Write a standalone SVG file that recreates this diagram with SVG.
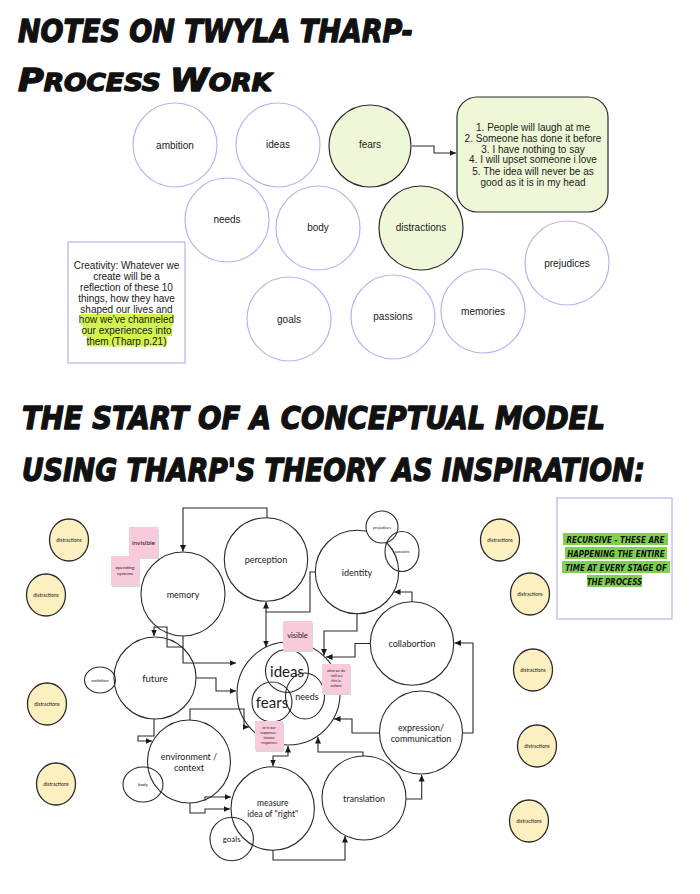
<svg xmlns="http://www.w3.org/2000/svg" width="700" height="894" viewBox="0 0 700 894">
<style>
.bg{fill:#fff}
.title{font-family:"DejaVu Sans Condensed","DejaVu Sans",sans-serif;font-weight:bold;font-style:oblique;fill:#111;stroke:#111;stroke-width:1.3;stroke-linejoin:round}
.lav{fill:#fff;stroke:#b8b2ef;stroke-width:1.2}
.grn{fill:#eef8d8;stroke:#2a2a2a;stroke-width:1.2}
.t1{font-family:"Liberation Sans",Arial,sans-serif;font-size:10px;fill:#1a1a1a;text-anchor:middle}
.hl{fill:#d2f250}
.c{fill:#fff;stroke:#2a2a2a;stroke-width:1.1}
.yel{fill:#fcefc0;stroke:#2a2a2a;stroke-width:1.3}
.t2{font-family:Lato,"Open Sans",sans-serif;fill:#1a1a1a;text-anchor:middle}
.pink{fill:#f9cadb}
.shadow{fill:#d8d8d8}
.rec{font-family:"DejaVu Sans Condensed","DejaVu Sans",sans-serif;font-weight:bold;font-style:oblique;font-size:8px;fill:#111;text-anchor:middle}
.rh{fill:#80d04c}
.conn path{fill:none;stroke:#2a2a2a;stroke-width:1.1}
</style>
<defs>
<marker id="ah" markerUnits="userSpaceOnUse" markerWidth="7" markerHeight="7" refX="6.5" refY="3.5" orient="auto-start-reverse">
<path d="M0,0.5 L6.5,3.5 L0,6.5 z" fill="#1a1a1a"/>
</marker>
</defs>
<rect class="bg" x="0" y="0" width="700" height="894"/>

<g id="title1">
<text class="title" x="18" y="42" font-size="32" textLength="395" lengthAdjust="spacingAndGlyphs">NOTES ON TWYLA THARP-</text>
<text class="title" x="18" y="91" font-size="32" textLength="254" lengthAdjust="spacingAndGlyphs">P<tspan font-size="24">ROCESS </tspan>W<tspan font-size="24">ORK</tspan></text>
</g>

<!-- top section -->
<g id="ambition"><circle class="lav" cx="175" cy="145" r="42"/><text class="t1" x="175" y="149">ambition</text></g>
<g id="ideas"><circle class="lav" cx="278" cy="145" r="42"/><text class="t1" x="278" y="148">ideas</text></g>
<g id="fears"><circle class="grn" cx="370" cy="146" r="41"/><text class="t1" x="370" y="148">fears</text></g>
<g id="needs"><circle class="lav" cx="227" cy="220" r="42"/><text class="t1" x="227" y="223">needs</text></g>
<g id="body"><circle class="lav" cx="318" cy="228" r="42"/><text class="t1" x="318" y="231">body</text></g>
<g id="distractions-top"><circle class="grn" cx="421" cy="228" r="42"/><text class="t1" x="421" y="231">distractions</text></g>
<g id="goals"><circle class="lav" cx="289" cy="319" r="42"/><text class="t1" x="289" y="323">goals</text></g>
<g id="passions"><circle class="lav" cx="393" cy="317" r="42"/><text class="t1" x="393" y="320">passions</text></g>
<g id="memories"><circle class="lav" cx="483" cy="311" r="42"/><text class="t1" x="483" y="315">memories</text></g>
<g id="prejudices"><circle class="lav" cx="567" cy="263" r="42"/><text class="t1" x="567" y="267">prejudices</text></g>

<g id="fears-list">
<rect x="457" y="97" width="151" height="115" rx="20" ry="20" class="grn"/>
<text class="t1" x="533" y="131">1. People will laugh at me</text>
<text class="t1" x="533" y="141.5">2. Someone has done it before</text>
<text class="t1" x="533" y="152.5">3. I have nothing to say</text>
<text class="t1" x="533" y="163">4. I will upset someone i love</text>
<text class="t1" x="533" y="174.5">5. The idea will never be as</text>
<text class="t1" x="533" y="185.5">good as it is in my head</text>
</g>

<g id="creativity-note">
<rect class="lav" x="68" y="242" width="117" height="121"/>
<rect class="hl" x="81" y="314" width="92" height="11"/>
<rect class="hl" x="83" y="325" width="89" height="11"/>
<rect class="hl" x="87" y="336" width="80" height="10.5"/>
<text class="t1" x="126.5" y="269">Creativity: Whatever we</text>
<text class="t1" x="126.5" y="280">create will be a</text>
<text class="t1" x="126.5" y="291">reflection of these 10</text>
<text class="t1" x="126.5" y="301.5">things, how they have</text>
<text class="t1" x="126.5" y="312.5">shaped our lives and</text>
<text class="t1" x="126.5" y="323">how we've channeled</text>
<text class="t1" x="126.5" y="334">our experiences into</text>
<text class="t1" x="126.5" y="344.5">them (Tharp p.21)</text>
</g>

<g id="title2">
<text class="title" x="22" y="429" font-size="32" textLength="583" lengthAdjust="spacingAndGlyphs">THE START OF A CONCEPTUAL MODEL</text>
<text class="title" x="22" y="481" font-size="32" textLength="623" lengthAdjust="spacingAndGlyphs">USING THARP'S THEORY AS INSPIRATION:</text>
</g>

<!-- lower diagram -->
<g id="recursive-note">
<rect class="lav" x="557" y="498" width="115" height="121"/>
<rect class="rh" x="563" y="533" width="105" height="12"/>
<rect class="rh" x="565" y="547" width="102" height="12"/>
<rect class="rh" x="562" y="561" width="108" height="12"/>
<rect class="rh" x="587" y="575" width="55" height="12"/>
<text class="rec" x="615.5" y="542.5">RECURSIVE - THESE ARE</text>
<text class="rec" x="616" y="556.5">HAPPENING THE ENTIRE</text>
<text class="rec" x="616" y="570.5">TIME AT EVERY STAGE OF</text>
<text class="rec" x="614.5" y="584.5">THE PROCESS</text>
</g>

<g id="dist-l1"><ellipse class="yel" cx="69" cy="540" rx="19.5" ry="21"/><text class="t2" x="69" y="542" font-size="5">distractions</text></g>
<g id="dist-l2"><ellipse class="yel" cx="46" cy="595" rx="19.5" ry="21"/><text class="t2" x="46" y="597" font-size="5">distractions</text></g>
<g id="dist-l3"><ellipse class="yel" cx="47" cy="704" rx="19.5" ry="21"/><text class="t2" x="47" y="706" font-size="5">distractions</text></g>
<g id="dist-l4"><ellipse class="yel" cx="56" cy="784" rx="19.5" ry="21"/><text class="t2" x="56" y="786" font-size="5">distractions</text></g>
<g id="dist-r1"><ellipse class="yel" cx="500" cy="540" rx="19.5" ry="21"/><text class="t2" x="500" y="542" font-size="5">distractions</text></g>
<g id="dist-r2"><ellipse class="yel" cx="530" cy="594" rx="19.5" ry="21"/><text class="t2" x="530" y="596" font-size="5">distractions</text></g>
<g id="dist-r3"><ellipse class="yel" cx="533" cy="670" rx="19.5" ry="21"/><text class="t2" x="533" y="672" font-size="5">distractions</text></g>
<g id="dist-r4"><ellipse class="yel" cx="537" cy="746" rx="19.5" ry="21"/><text class="t2" x="537" y="748" font-size="5">distractions</text></g>
<g id="dist-r5"><ellipse class="yel" cx="529" cy="821" rx="19.5" ry="21"/><text class="t2" x="529" y="823" font-size="5">distractions</text></g>

<g id="memory"><circle class="c" cx="183" cy="594" r="42"/><text class="t2" x="183" y="598" font-size="9">memory</text></g>
<g id="perception"><circle class="c" cx="266" cy="559.5" r="41.7"/><text class="t2" x="266" y="563" font-size="9">perception</text></g>
<g id="identity"><circle class="c" cx="357" cy="572" r="41.7"/><text class="t2" x="357" y="576" font-size="9">identity</text></g>
<g id="prejudices-small"><circle class="c" cx="382" cy="527" r="16"/><text class="t2" x="382" y="528.5" font-size="4">prejudices</text></g>
<g id="passions-small"><ellipse class="c" cx="402" cy="551.5" rx="17" ry="20" fill="none" style="fill:none"/><text class="t2" x="402" y="553" font-size="4">passions</text></g>
<g id="future"><circle class="c" cx="155" cy="678" r="41"/><text class="t2" x="155" y="682" font-size="9.5">future</text></g>
<g id="ambition-small"><ellipse class="c" cx="100" cy="680" rx="15.5" ry="13" style="fill:none"/><text class="t2" x="100" y="682" font-size="4.5">ambition</text></g>
<g id="collabortion"><circle class="c" cx="412" cy="643.5" r="41.7"/><text class="t2" x="412" y="647" font-size="9">collabortion</text></g>
<g id="expression"><circle class="c" cx="421" cy="732.5" r="41.5"/><text class="t2" x="421" y="731" font-size="9">expression/</text><text class="t2" x="421" y="742" font-size="9">communication</text></g>
<g id="translation"><circle class="c" cx="364" cy="798" r="42"/><text class="t2" x="364" y="802" font-size="9">translation</text></g>
<g id="environment"><circle class="c" cx="189" cy="761.5" r="41.5"/><text class="t2" x="189" y="760" font-size="9">environment /</text><text class="t2" x="189" y="771" font-size="9">context</text></g>
<g id="body-small"><ellipse class="c" cx="143" cy="784.5" rx="20" ry="17.5" style="fill:none"/><text class="t2" x="143" y="786" font-size="4.5">body</text></g>
<g id="measure"><circle class="c" cx="272.7" cy="808.5" r="41.7"/><text class="t2" x="272.7" y="806" font-size="8.5">measure</text><text class="t2" x="272.7" y="817" font-size="8.5">idea of "right"</text></g>
<g id="goals-small"><circle class="c" cx="231.7" cy="839" r="21.7" style="fill:none"/><text class="t2" x="231.7" y="842" font-size="8">goals</text></g>

<g id="central">
<circle class="c" cx="288.5" cy="693.5" r="51.5" style="fill:none"/>
<circle class="c" cx="287" cy="671" r="21.5" style="fill:none"/>
<circle class="c" cx="272" cy="702" r="20" style="fill:none"/>
<ellipse class="c" cx="305" cy="696" rx="19.5" ry="23" style="fill:none"/>
<text class="t2" x="287" y="677" font-size="15">ideas</text>
<text class="t2" x="272" y="708" font-size="15">fears</text>
<text class="t2" x="307" y="700" font-size="9">needs</text>
</g>

<g id="sticky-invisible"><rect class="shadow" x="130" y="529" width="29" height="30"/><rect class="pink" x="129" y="527" width="29" height="30"/><text class="t2" x="143.5" y="545" font-size="6.5">invisible</text></g>
<g id="sticky-operating"><rect class="shadow" x="112" y="558" width="28" height="29"/><rect class="pink" x="111" y="556" width="28" height="29"/><text class="t2" x="125" y="569" font-size="4.5">operating</text><text class="t2" x="125" y="575" font-size="4.5">systems</text></g>
<g id="sticky-visible"><rect class="shadow" x="284" y="623" width="29" height="29"/><rect class="pink" x="283" y="621" width="29" height="29"/><text class="t2" x="297.5" y="637.5" font-size="7.5">visible</text></g>
<g id="sticky-what"><rect class="shadow" x="323" y="666" width="28" height="29"/><rect class="pink" x="322" y="664" width="28" height="29"/><text class="t2" x="336" y="671.5" font-size="3.5">what we do</text><text class="t2" x="336" y="676.5" font-size="3.5">- will see</text><text class="t2" x="336" y="681.5" font-size="3.5">this in</text><text class="t2" x="336" y="686.5" font-size="3.5">actions</text></g>
<g id="sticky-responses"><rect class="shadow" x="256" y="723" width="28" height="29"/><rect class="pink" x="255" y="721" width="28" height="29"/><text class="t2" x="269" y="728.5" font-size="3.5">or in our</text><text class="t2" x="269" y="733.5" font-size="3.5">responses -</text><text class="t2" x="269" y="738.5" font-size="3.5">trauma</text><text class="t2" x="269" y="744" font-size="3.5">responses</text></g>

<g id="connectors" class="conn">
<path d="M412 146 H434 V153 H456" marker-end="url(#ah)"/>
<path d="M267 518 V508 H183 V551.5" marker-end="url(#ah)"/>
<path d="M183 636 V663 H236" marker-end="url(#ah)"/>
<path d="M183 647 H167 V627 H154 V636" marker-end="url(#ah)"/>
<path d="M196 678 H216 V691 H236" marker-end="url(#ah)"/>
<path d="M315 572 H310 V612 H266 V602" marker-end="url(#ah)"/>
<path d="M266 612 V647" marker-end="url(#ah)"/>
<path d="M357 613.7 V631 H324 V655.5" marker-end="url(#ah)"/>
<path d="M370 643.5 H355 V657 H326" marker-end="url(#ah)"/>
<path d="M379.5 733 H352 V719 H334" marker-end="url(#ah)"/>
<path d="M462.5 733 H473 V643 H454.5" marker-end="url(#ah)"/>
<path d="M412 602 V592 H394" marker-end="url(#ah)"/>
<path d="M406 799 H421.7 V775" marker-end="url(#ah)"/>
<path d="M273 850 V860 H345 V836" marker-end="url(#ah)"/>
<path d="M363 756 V752 H318 V737" marker-end="url(#ah)"/>
<path d="M288 746 V756 H273 V766" marker-start="url(#ah)" marker-end="url(#ah)"/>
<path d="M190 803 V813 H205 V809 H230" marker-end="url(#ah)"/>
<path d="M205 801 V797 H231" marker-end="url(#ah)"/>
<path d="M154 719 V736 H138 V741 H152" marker-end="url(#ah)"/>
<path d="M190 720 V709 H244 V727 H249" marker-end="url(#ah)"/>
</g>
</svg>
